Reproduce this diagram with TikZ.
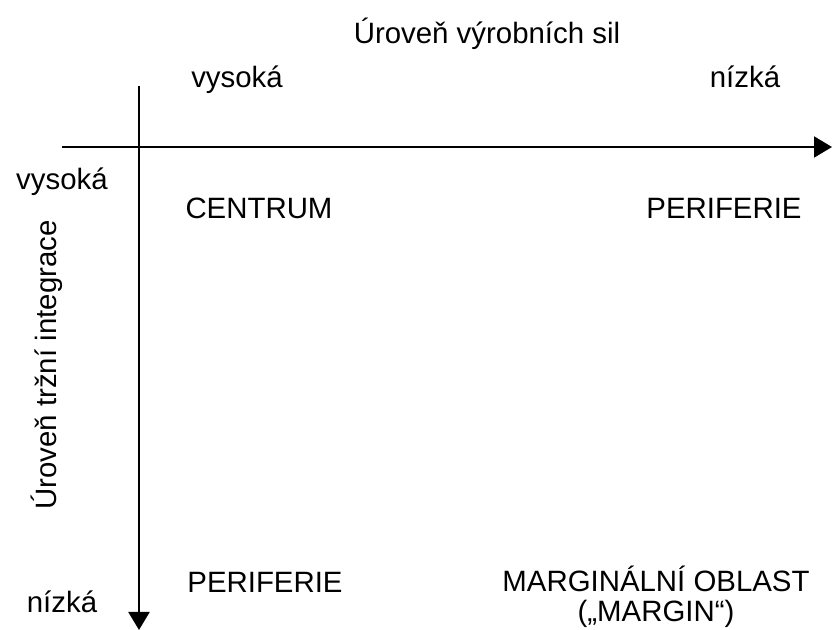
\documentclass[tikz,border=0pt]{standalone}
\usepackage{fontspec}
\setmainfont{Liberation Sans}
\usetikzlibrary{arrows.meta}
\begin{document}
\begin{tikzpicture}[x=0.5pt,y=-0.5pt,
  lbl/.style={inner sep=0pt,anchor=base,font=\fontsize{14.7pt}{15pt}\selectfont,align=center},
  axis/.style={line width=1pt,-{Triangle[length=9pt,width=10.5pt]}}]
\useasboundingbox (0,0) rectangle (832,630);
\coordinate (hs) at (62,147);
\coordinate (he) at (832,147);
\coordinate (vs) at (139,86);
\coordinate (ve) at (139,630);
\draw[axis] (hs) -- (he);
\draw[axis] (vs) -- (ve);
\node[lbl] (title) at (487,44) {Úroveň výrobních sil};
\node[lbl] (xhigh) at (237,88) {vysoká};
\node[lbl] (xlow) at (745,88) {nízká};
\node[lbl] (yhigh) at (62,190) {vysoká};
\node[lbl] (ylow) at (62,613) {nízká};
\node[lbl,anchor=center,rotate=90] (ytitle) at (47,365) {Úroveň tržní integrace};
\node[lbl] (centrum) at (259,219) {CENTRUM};
\node[lbl] (per1) at (724,219) {PERIFERIE};
\node[lbl] (per2) at (265,593) {PERIFERIE};
\node[lbl] (marg) at (656,622) {MARGINÁLNÍ OBLAST\\(„MARGIN“)};
\end{tikzpicture}
\end{document}
